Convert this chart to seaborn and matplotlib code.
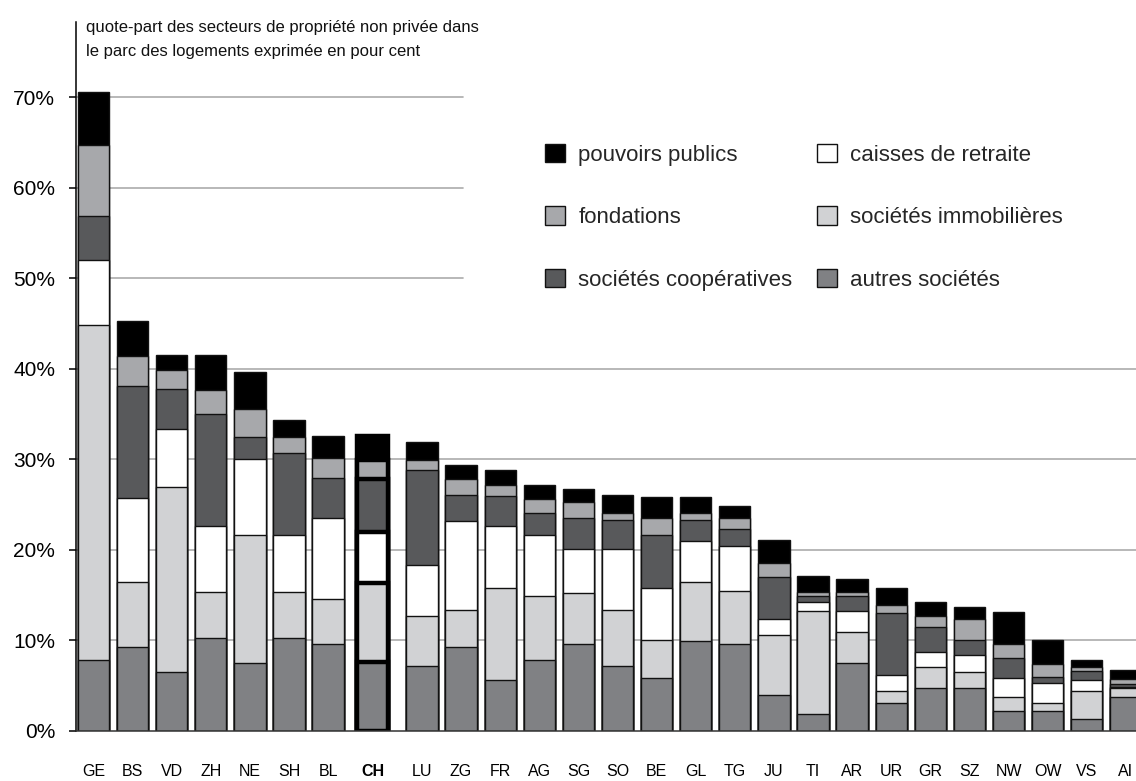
import numpy as np
import matplotlib
matplotlib.use("Agg")
import matplotlib.pyplot as plt
import seaborn as sns

# Cantons, sorted by total share; "CH" is the Swiss average
cantons = ["GE", "BS", "VD", "ZH", "NE", "SH", "BL", "CH", "LU", "ZG", "FR", "AG", "SG",
           "SO", "BE", "GL", "TG", "JU", "TI", "AR", "UR", "GR", "SZ", "NW", "OW", "VS", "AI"]

# Share of the housing stock per ownership sector, in percent (bottom to top of each bar)
autres_societes = [7.8, 9.3, 6.5, 10.3, 7.5, 10.3, 9.6, 7.6, 7.2, 9.3, 5.6, 7.8, 9.6,
                   7.2, 5.9, 9.9, 9.6, 4.0, 1.9, 7.5, 3.1, 4.7, 4.7, 2.2, 2.2, 1.3, 3.8]
societes_immobilieres = [37.0, 7.2, 20.4, 5.0, 14.2, 5.0, 5.0, 8.7, 5.5, 4.1, 10.2, 7.1, 5.6,
                         6.2, 4.1, 6.5, 5.9, 6.6, 11.4, 3.4, 1.3, 2.4, 1.8, 1.6, 0.9, 3.1, 0.9]
caisses_de_retraite = [7.2, 9.2, 6.5, 7.3, 8.3, 6.4, 8.9, 5.7, 5.6, 9.8, 6.8, 6.8, 4.9,
                       6.7, 5.8, 4.6, 4.9, 1.8, 1.0, 2.4, 1.8, 1.6, 1.9, 2.1, 2.2, 1.2, 0.2]
societes_cooperatives = [4.9, 12.4, 4.4, 12.4, 2.5, 9.0, 4.4, 5.8, 10.5, 2.9, 3.4, 2.4, 3.4,
                         3.2, 5.9, 2.3, 1.9, 4.6, 0.6, 1.6, 6.8, 2.8, 1.6, 2.2, 0.7, 1.0, 0.3]
fondations = [7.8, 3.3, 2.1, 2.7, 3.1, 1.8, 2.3, 2.1, 1.1, 1.7, 1.2, 1.5, 1.8,
              0.8, 1.8, 0.8, 1.2, 1.5, 0.5, 0.5, 0.9, 1.2, 2.4, 1.5, 1.4, 0.5, 0.5]
pouvoirs_publics = [5.9, 3.9, 1.6, 3.8, 4.0, 1.9, 2.4, 2.7, 2.0, 1.6, 1.6, 1.6, 1.4,
                    2.0, 2.3, 1.7, 1.3, 2.6, 1.7, 1.4, 1.9, 1.6, 1.3, 3.5, 2.6, 0.7, 1.0]

y_ticks = [0, 10, 20, 30, 40, 50, 60, 70]
y_tick_labels = ["0%", "10%", "20%", "30%", "40%", "50%", "60%", "70%"]

title_text = ("quote-part des secteurs de propriété non privée dans\n"
              "le parc des logements exprimée en pour cent")

# Stack order from the baseline upwards, with fill colours
layers = [
    ("autres sociétés", autres_societes, "#808184"),
    ("sociétés immobilières", societes_immobilieres, "#d1d2d4"),
    ("caisses de retraite", caisses_de_retraite, "#ffffff"),
    ("sociétés coopératives", societes_cooperatives, "#58595b"),
    ("fondations", fondations, "#a7a8ab"),
    ("pouvoirs publics", pouvoirs_publics, "#000000"),
]

sns.set_style("white")
plt.rcParams["font.family"] = ["Liberation Sans", "DejaVu Sans"]

fig = plt.figure(figsize=(11.36, 7.81), dpi=100)
ax = fig.add_axes([76 / 1136, 50 / 781, 1060 / 1136, 709 / 781])

# Bar positions: the Swiss average is set apart by small gaps on both sides
n = len(cantons)
idx = np.arange(n)
ch = cantons.index("CH")
pos = idx + 0.14 * (idx >= ch) + 0.26 * (idx > ch)

# Horizontal guides (shortened at the top where the legend sits)
for v in [10, 20, 30, 40]:
    ax.axhline(v, xmin=0, xmax=1, color="#ababab", lw=1.2, zorder=0)
for v in [50, 60, 70]:
    ax.axhline(v, xmin=0, xmax=0.365, color="#ababab", lw=1.2, zorder=0)

# Stacked bars: draw cumulative totals from the top layer down
cum = np.cumsum(np.array([vals for _, vals, _ in layers], dtype=float), axis=0)
for k in range(len(layers) - 1, -1, -1):
    name, _, color = layers[k]
    sns.barplot(x=pos, y=cum[k], native_scale=True, color=color, saturation=1,
                width=0.8, edgecolor="#111111", linewidth=1.0, errorbar=None,
                label=name, ax=ax, zorder=2)

# Heavy outline for the Swiss average
for cont in ax.containers:
    cont.patches[ch].set_linewidth(3.2)
    cont.patches[ch].set_edgecolor("black")

ax.set_xlim(-0.448, 26.66)
ax.set_ylim(0, 78.3)
ax.set_xticks(pos)
ax.set_xticklabels(cantons)
for lbl in ax.get_xticklabels():
    if lbl.get_text() == "CH":
        lbl.set_fontweight("bold")
ax.set_yticks(y_ticks)
ax.set_yticklabels(y_tick_labels)
ax.tick_params(axis="x", length=0, pad=24, labelsize=11.5, colors="black")
ax.tick_params(axis="y", direction="out", length=5, width=1.1, pad=10, labelsize=15,
               left=True, colors="black")
ax.set_xlabel("")
ax.set_ylabel("")

for side in ["top", "right"]:
    ax.spines[side].set_visible(False)
ax.spines["left"].set_color("black")
ax.spines["left"].set_linewidth(1.1)
ax.spines["bottom"].set_color("#333333")
ax.spines["bottom"].set_linewidth(1.1)

# Title text inside the plot, right of the axis
fig.text(86 / 1136, 1 - 20 / 781, title_text, ha="left", va="top", fontsize=12,
         linespacing=1.75, color="#111111")

# Legend: two columns of three entries
h, l = ax.get_legend_handles_labels()
lut = dict(zip(l, h))
order = ["pouvoirs publics", "fondations", "sociétés coopératives",
         "caisses de retraite", "sociétés immobilières", "autres sociétés"]
leg = ax.legend([lut[o] for o in order], order, ncol=2, frameon=False,
                loc="upper left", bbox_to_anchor=(545 / 1136, 1 - 144 / 781),
                bbox_transform=fig.transFigure, fontsize=16, handlelength=0.9,
                handleheight=0.9, handletextpad=0.6, labelspacing=1.82,
                columnspacing=1.1, borderpad=0, borderaxespad=0)
for p in leg.get_patches():
    p.set_linewidth(1.0)
    p.set_edgecolor("#111111")

fig.savefig("out.png", dpi=100)
